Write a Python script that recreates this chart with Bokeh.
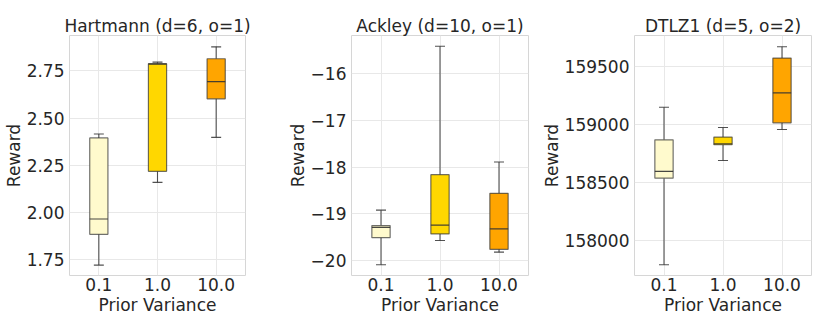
from bokeh.plotting import figure
from bokeh.layouts import row
from bokeh.models import Range1d, SingleIntervalTicker, NumeralTickFormatter, ColumnDataSource
from bokeh.transform import dodge
from bokeh.embed import file_html
from bokeh.resources import INLINE

categories = ["0.1", "1.0", "10.0"]
colors = ["#FFFACD", "#FFD700", "#FFA500"]

titles = ["Hartmann (d=6, o=1)", "Ackley (d=10, o=1)", "DTLZ1 (d=5, o=2)"]

# Hartmann
h_wlo = [1.722, 2.160, 2.398]
h_q1 = [1.885, 2.218, 2.602]
h_med = [1.966, 2.786, 2.693]
h_q3 = [2.395, 2.788, 2.814]
h_whi = [2.416, 2.796, 2.877]

# Ackley
a_wlo = [-20.09, -19.57, -19.82]
a_q1 = [-19.51, -19.43, -19.76]
a_med = [-19.29, -19.24, -19.32]
a_q3 = [-19.25, -18.16, -18.56]
a_whi = [-18.92, -15.41, -17.89]

# DTLZ1
d_wlo = [157791, 158690, 158957]
d_q1 = [158537, 158825, 159014]
d_med = [158595, 158833, 159273]
d_q3 = [158868, 158891, 159572]
d_whi = [159149, 158974, 159670]

ackley_tick_labels = {-16: "\u221216", -17: "\u221217", -18: "\u221218", -19: "\u221219", -20: "\u221220"}

FONT = "DejaVu Sans"
TXT = "#262626"
FS = "17px"
BOX_W = 0.31
CAP_W = 0.17


def make(title, wlo, q1, med, q3, whi, yr, interval, fmt, width, bl, br, overrides=None):
    p = figure(x_range=categories, y_range=Range1d(*yr), width=width, height=332,
               min_border_left=bl, min_border_right=br, min_border_top=35, min_border_bottom=57,
               output_backend="svg", toolbar_location=None, tools="")
    p.title.text = title
    p.title.align = "center"
    p.title.text_font = FONT
    p.title.text_font_size = FS
    p.title.text_font_style = "normal"
    p.title.text_color = TXT
    p.title.standoff = 0
    p.title.offset = 0
    p.background_fill_color = "white"
    p.border_fill_color = "white"
    p.outline_line_color = "#d6d6d6"
    p.outline_line_width = 1
    p.grid.grid_line_color = "#e8e8e8"
    p.grid.grid_line_width = 1
    p.x_range.range_padding = 0
    for ax in (p.xaxis[0], p.yaxis[0]):
        ax.axis_line_color = None
        ax.major_tick_line_color = None
        ax.minor_tick_line_color = None
        ax.major_tick_out = 0
        ax.major_tick_in = 0
        ax.major_label_text_font = FONT
        ax.major_label_text_font_size = FS
        ax.major_label_text_color = TXT
        ax.axis_label_text_font = FONT
        ax.axis_label_text_font_size = FS
        ax.axis_label_text_font_style = "normal"
        ax.axis_label_text_color = TXT
    p.xaxis.axis_label = "Prior Variance"
    p.yaxis.axis_label = "Reward"
    p.xaxis.major_label_standoff = 2
    p.xaxis.axis_label_standoff = 1
    p.yaxis.major_label_standoff = 1
    p.yaxis.axis_label_standoff = 0
    p.yaxis.ticker = SingleIntervalTicker(interval=interval)
    p.yaxis.formatter = NumeralTickFormatter(format=fmt)
    if overrides:
        p.yaxis.major_label_overrides = overrides

    src = ColumnDataSource(dict(cat=categories, wlo=wlo, q1=q1, med=med, q3=q3, whi=whi, color=colors))
    lc = "#333333"
    la = 0.85
    p.segment(x0="cat", y0="q3", x1="cat", y1="whi", source=src, line_color=lc, line_width=1.1, line_alpha=la)
    p.segment(x0="cat", y0="wlo", x1="cat", y1="q1", source=src, line_color=lc, line_width=1.1, line_alpha=la)
    for f in ("whi", "wlo"):
        p.segment(x0=dodge("cat", -CAP_W / 2, range=p.x_range), y0=f,
                  x1=dodge("cat", CAP_W / 2, range=p.x_range), y1=f,
                  source=src, line_color=lc, line_width=1.1, line_alpha=la)
    p.vbar(x="cat", bottom="q1", top="q3", width=BOX_W, fill_color="color", source=src,
           line_color=lc, line_alpha=0.7, line_width=1.2)
    p.segment(x0=dodge("cat", -BOX_W / 2, range=p.x_range), y0="med",
              x1=dodge("cat", BOX_W / 2, range=p.x_range), y1="med",
              source=src, line_color=lc, line_width=1.2, line_alpha=0.9)
    return p


p1 = make(titles[0], h_wlo, h_q1, h_med, h_q3, h_whi, (1.667, 2.937), 0.25, "0.00", 284, 69, 39)
p2 = make(titles[1], a_wlo, a_q1, a_med, a_q3, a_whi, (-20.32, -15.18), 1, "0", 254, 67, 10, ackley_tick_labels)
p3 = make(titles[2], d_wlo, d_q1, d_med, d_q3, d_whi, (157698, 159767), 500, "0", 292, 96, 19)

layout = row(p1, p2, p3)
open("out.html", "w").write(file_html(layout, INLINE))
